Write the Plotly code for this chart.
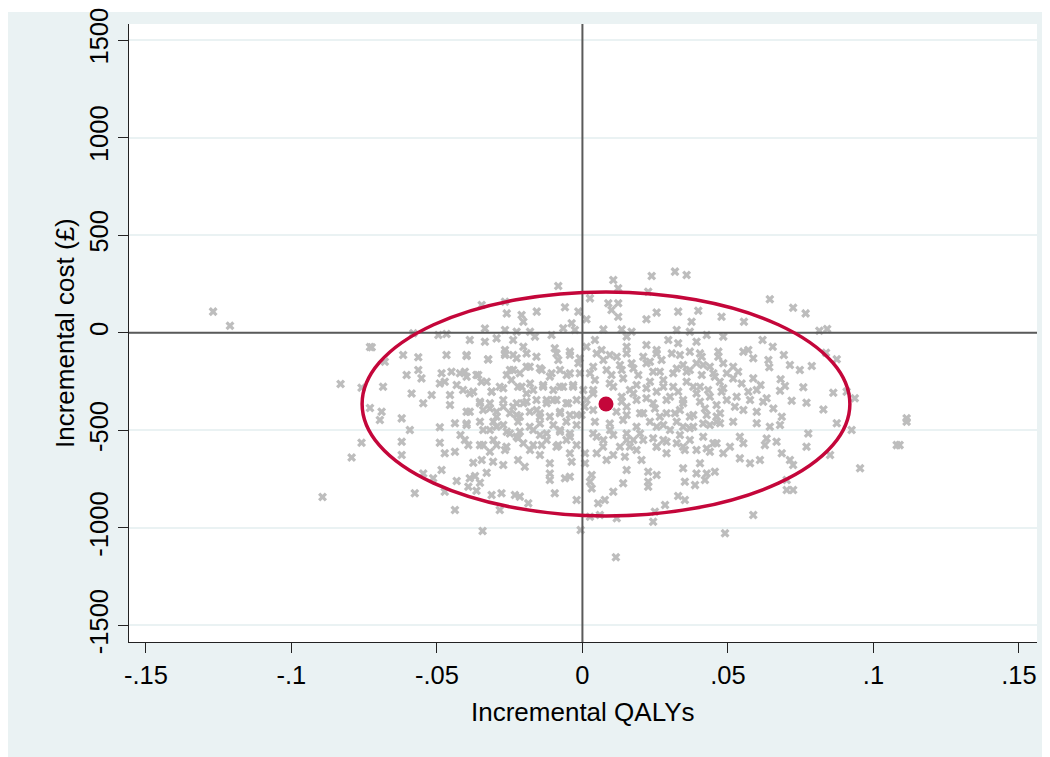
import plotly.graph_objects as go

# Bootstrapped incremental QALYs / costs
boot_points = [
    (-0.1269, 108), (-0.1211, 36), (-0.0831, -263), (-0.0759, -282), (-0.0730, -73), (-0.0730, -386),
    (-0.0893, -842),
    # upper-left block
    (-0.0724, -75), (-0.0346, 142), (-0.0266, 159), (-0.0157, 108), (-0.0260, 99), (-0.0209, 91),
    (-0.0203, 56), (-0.0335, 22), (-0.0581, -3), (-0.0495, -12), (-0.0467, -7), (-0.0266, 14),
    (-0.0226, 5), (-0.0180, 5), (-0.0387, -37), (-0.0335, -46), (-0.0295, -29), (-0.0238, -37),
    (-0.0163, -20), (-0.0266, -89), (-0.0203, -72), (-0.0467, -114), (-0.0398, -119), (-0.0324, -136),
    (-0.0266, -114), (-0.0226, -131), (-0.0616, -114), (-0.0564, -126), (-0.0679, -149), (-0.0564, -191),
    (-0.0604, -217), (-0.0553, -234), (-0.0484, -208), (-0.0450, -200), (-0.0421, -208), (-0.0473, -251),
    (-0.0398, -226), (-0.0364, -217), (-0.0329, -251), (-0.0260, -217), (-0.0238, -191), (-0.0192, -174),
    (-0.0146, -182), (-0.0685, -277), (-0.0490, -260), (-0.0432, -268), (-0.0587, -311), (-0.0518, -319),
    (-0.0455, -319), (-0.0387, -311), (-0.0312, -302), (-0.0272, -285), (-0.0221, -277), (-0.0180, -260),
    (-0.0135, -268), (-0.0547, -362), (-0.0455, -371), (-0.0387, -405), (-0.0352, -362), (-0.0318, -388),
    (-0.0272, -379), (-0.0226, -362), (-0.0192, -354), (-0.0157, -396), (-0.0123, -345), (-0.0690, -405),
    (-0.0621, -439), (-0.0295, -431), (-0.0226, -422), (-0.0146, -431),
    # upper-middle block
    (-0.0083, 239), (0.0106, 270), (0.0238, 291), (0.0318, 313), (0.0358, 296), (0.0123, 228),
    (-0.0060, 130), (0.0026, 176), (0.0089, 151), (0.0123, 151), (0.0100, 116), (0.0123, 82),
    (-0.0014, 108), (0.0226, 210), (0.0255, 103), (0.0329, 108), (0.0398, 113), (0.0478, 82),
    (0.0220, 69), (0.0375, 56), (0.0014, 69), (-0.0037, 48), (-0.0066, 23), (-0.0026, 14),
    (0.0072, 17), (0.0135, 17), (0.0169, 5), (0.0324, 14), (0.0369, 5), (0.0427, -12),
    (0.0484, -20), (-0.0106, -12), (0.0152, -20), (0.0043, -37), (0.0220, -63), (0.0295, -37),
    (0.0329, -54), (0.0392, -46), (-0.0095, -80), (-0.0043, -97), (0.0014, -72), (0.0066, -89),
    (0.0152, -72), (0.0255, -89), (0.0307, -106), (0.0369, -97), (0.0410, -123), (0.0467, -97),
    (-0.0083, -140), (-0.0014, -157), (0.0072, -140), (0.0118, -123), (0.0169, -157), (0.0232, -149),
    (0.0272, -140), (0.0346, -166), (0.0392, -157), (0.0438, -174), (0.0484, -157), (-0.0106, -208),
    (-0.0054, -217), (0.0026, -208), (0.0100, -217), (0.0135, -191), (0.0192, -217), (0.0243, -200),
    (0.0312, -208), (0.0358, -200), (0.0410, -217), (0.0455, -226), (0.0496, -208), (-0.0077, -277),
    (-0.0032, -268), (0.0037, -294), (0.0106, -277), (0.0163, -294), (0.0220, -285), (0.0278, -277),
    (0.0329, -302), (0.0381, -277), (0.0432, -294), (0.0484, -285), (-0.0100, -345), (-0.0049, -362),
    (0.0014, -345), (0.0135, -354), (0.0186, -345), (0.0243, -362), (0.0289, -345), (0.0346, -362),
    (0.0404, -354), (0.0461, -371), (0.0496, -345), (-0.0077, -413), (-0.0020, -422), (0.0152, -422),
    (0.0209, -413), (0.0266, -431), (0.0318, -413), (0.0369, -431), (0.0427, -422), (0.0473, -413),
    # upper-right block
    (0.0644, 171), (0.0724, 128), (0.0767, 99), (0.0555, 56), (0.0814, 10), (0.0841, 19),
    (0.0619, -37), (0.0654, -72), (0.0553, -97), (0.0570, -89), (0.0587, -131), (0.0639, -140),
    (0.0692, -114), (0.0837, -103), (0.0874, -136), (0.0642, -177), (0.0713, -166), (0.0747, -191),
    (0.0788, -171), (0.0518, -174), (0.0535, -200), (0.0518, -234), (0.0547, -260), (0.0587, -234),
    (0.0612, -268), (0.0681, -239), (0.0696, -273), (0.0759, -280), (0.0570, -302), (0.0599, -294),
    (0.0679, -297), (0.0862, -308), (0.0936, -336), (0.0908, -302), (0.0530, -328), (0.0576, -345),
    (0.0621, -354), (0.0633, -336), (0.0719, -349), (0.0770, -359), (0.0828, -393), (0.0524, -379),
    (0.0553, -396), (0.0599, -405), (0.0656, -388), (0.0685, -431), (0.1114, -439),
    # lower-left block
    (-0.0793, -639), (-0.0759, -564), (-0.0621, -559), (-0.0621, -627), (-0.0593, -499), (-0.0696, -447),
    (-0.0490, -485), (-0.0438, -464), (-0.0398, -473), (-0.0490, -564), (-0.0473, -618), (-0.0438, -610),
    (-0.0392, -576), (-0.0419, -524), (-0.0341, -576), (-0.0318, -610), (-0.0295, -576), (-0.0266, -601),
    (-0.0341, -499), (-0.0295, -482), (-0.0260, -507), (-0.0346, -652), (-0.0307, -661), (-0.0272, -678),
    (-0.0375, -666), (-0.0329, -718), (-0.0484, -704), (-0.0547, -721), (-0.0513, -746), (-0.0432, -760),
    (-0.0387, -746), (-0.0369, -735), (-0.0352, -769), (-0.0392, -789), (-0.0364, -810), (-0.0576, -823),
    (-0.0473, -815), (-0.0312, -832), (-0.0278, -823), (-0.0438, -909), (-0.0284, -909), (-0.0343, -1016),
    # lower-middle block
    (-0.0226, -533), (-0.0221, -652), (-0.0232, -832), (-0.0215, -840), (-0.0186, -874), (-0.0180, -601),
    (-0.0198, -687), (-0.0140, -576), (-0.0146, -627), (-0.0112, -669), (-0.0112, -721), (-0.0112, -755),
    (-0.0095, -823), (-0.0060, -746), (-0.0043, -738), (-0.0037, -661), (-0.0043, -618), (-0.0083, -576),
    (-0.0020, -857), (-0.0006, -1011), (0.0009, -618), (0.0009, -669), (0.0032, -729), (0.0026, -764),
    (0.0032, -798), (0.0054, -874), (0.0077, -857), (0.0026, -943), (0.0060, -934), (0.0118, -951),
    (0.0115, -1151), (0.0049, -618), (0.0083, -652), (0.0106, -627), (0.0106, -815), (0.0140, -772),
    (0.0152, -704), (0.0129, -584), (0.0146, -636), (0.0186, -601), (0.0203, -652), (0.0226, -712),
    (0.0226, -764), (0.0226, -789), (0.0255, -729), (0.0243, -969), (0.0249, -917), (0.0284, -883),
    (0.0329, -837), (0.0352, -857), (0.0352, -764), (0.0346, -695), (0.0209, -550), (0.0255, -584),
    (0.0289, -618), (0.0278, -550), (0.0324, -567), (0.0352, -601), (0.0072, -550), (0.0037, -516),
    (0.0095, -499), (0.0152, -516), (0.0175, -550), (-0.0123, -516), (-0.0077, -499), (-0.0043, -533),
    (-0.0169, -499), (-0.0203, -567), (0.0255, -482), (0.0301, -499), (0.0346, -482),
    # lower-right block
    (0.0381, -482), (0.0438, -473), (0.0473, -464), (0.0518, -456), (0.0599, -464), (0.0644, -482),
    (0.0679, -473), (0.0874, -464), (0.0925, -499), (0.1114, -456), (0.1080, -576), (0.1090, -576),
    (0.0770, -584), (0.0776, -516), (0.0851, -627), (0.0954, -695), (0.0667, -559), (0.0633, -542),
    (0.0627, -576), (0.0541, -533), (0.0553, -567), (0.0507, -584), (0.0484, -618), (0.0438, -610),
    (0.0392, -601), (0.0461, -567), (0.0404, -669), (0.0392, -721), (0.0427, -721), (0.0455, -712),
    (0.0421, -755), (0.0387, -781), (0.0541, -644), (0.0576, -669), (0.0610, -652), (0.0685, -618),
    (0.0713, -652), (0.0724, -678), (0.0702, -755), (0.0702, -806), (0.0724, -806), (0.0587, -934),
    (0.0490, -1028),
    # dense core, left
    (-0.0398, -114), (-0.0324, -137), (-0.0266, -106), (-0.0238, -114), (-0.0192, -106), (-0.0158, -123),
    (-0.0089, -106), (-0.0043, -114), (-0.0009, -131), (-0.0404, -200), (-0.0358, -217), (-0.0347, -251),
    (-0.0312, -302), (-0.0249, -191), (-0.0244, -242), (-0.0215, -208), (-0.0181, -174), (-0.0140, -191),
    (-0.0112, -225), (-0.0077, -191), (-0.0043, -208), (-0.0009, -208), (-0.0410, -294), (-0.0375, -302),
    (-0.0284, -277), (-0.0209, -277), (-0.0192, -311), (-0.0169, -294), (-0.0135, -277), (-0.0100, -294),
    (-0.0066, -277), (-0.0032, -277), (0.0003, -294), (-0.0352, -354), (-0.0318, -362), (-0.0272, -345),
    (-0.0238, -379), (-0.0203, -362), (-0.0158, -345), (-0.0123, -362), (-0.0089, -345), (-0.0055, -362),
    (-0.0020, -345), (0.0008, -379), (-0.0398, -405), (-0.0341, -396), (-0.0295, -405), (-0.0249, -413),
    (-0.0215, -430), (-0.0181, -405), (-0.0146, -413), (-0.0112, -430), (-0.0077, -405), (-0.0043, -422),
    (-0.0003, -422), (-0.0398, -465), (-0.0352, -456), (-0.0306, -456), (-0.0272, -473), (-0.0221, -456),
    (-0.0181, -482), (-0.0146, -465), (-0.0100, -473), (-0.0055, -456), (-0.0020, -473), (-0.0318, -499),
    (-0.0249, -516), (-0.0215, -507), (-0.0146, -524), (-0.0077, -507), (-0.0043, -516), (-0.0404, -550),
    (-0.0352, -576), (-0.0306, -550), (-0.0261, -584), (-0.0221, -541), (-0.0169, -576), (-0.0123, -550),
    (-0.0089, -584), (-0.0055, -550), (-0.0020, -576),
    # dense core, right
    (0.0049, -106), (0.0094, -114), (0.0152, -106), (0.0209, -123), (0.0255, -106), (0.0335, -114),
    (0.0404, -106), (0.0467, -123), (0.0037, -174), (0.0083, -191), (0.0129, -166), (0.0175, -183),
    (0.0220, -157), (0.0266, -200), (0.0324, -183), (0.0369, -191), (0.0415, -166), (0.0450, -208),
    (0.0043, -242), (0.0094, -260), (0.0140, -234), (0.0186, -268), (0.0232, -251), (0.0278, -242),
    (0.0312, -277), (0.0358, -251), (0.0404, -277), (0.0472, -251), (0.0037, -311), (0.0135, -328),
    (0.0175, -311), (0.0220, -336), (0.0255, -302), (0.0301, -328), (0.0346, -345), (0.0392, -311),
    (0.0438, -328), (0.0478, -302), (0.0037, -396), (0.0117, -405), (0.0152, -379), (0.0198, -413),
    (0.0249, -388), (0.0289, -413), (0.0335, -396), (0.0381, -422), (0.0421, -388), (0.0461, -430),
    (0.0043, -456), (0.0094, -465), (0.0140, -447), (0.0186, -482), (0.0232, -456), (0.0278, -473),
    (0.0324, -456), (0.0369, -490), (0.0415, -465), (0.0461, -456), (0.0049, -533), (0.0106, -524),
    (0.0152, -550), (0.0198, -516), (0.0243, -541), (0.0289, -559), (0.0335, -524), (0.0369, -550),
    (0.0415, -533), (0.0450, -567), (0.0071, -584), (0.0163, -584), (0.0255, -584), (0.0346, -584),
    (0.0427, -593),
]
inc_qaly = [p[0] for p in boot_points]
inc_cost = [p[1] for p in boot_points]

# Mean point and confidence ellipse (centre, semi-axes)
mean_qaly = [0.0081]
mean_cost = [-365]
ellipse_rx = 0.0838
ellipse_ry = 574

x_ticks = [-0.15, -0.10, -0.05, 0.0, 0.05, 0.10, 0.15]
x_tick_text = ["-.15", "-.1", "-.05", "0", ".05", ".1", ".15"]
y_ticks = [-1500, -1000, -500, 0, 500, 1000, 1500]
y_tick_text = ["-1500", "-1000", "-500", "0", "500", "1000", "1500"]

RED = "#C4063A"
GRID = "#EAF2F3"
BG = "#EAF2F3"
FONT = "Liberation Sans, Arial, sans-serif"

fig = go.Figure()
fig.add_trace(go.Scatter(
    x=inc_qaly, y=inc_cost, mode="markers",
    marker=dict(symbol="x", size=8, color="#BDBDBD", line=dict(width=0)),
    hoverinfo="skip", showlegend=False,
))
fig.add_trace(go.Scatter(
    x=mean_qaly, y=mean_cost, mode="markers",
    marker=dict(symbol="circle", size=15, color=RED, line=dict(width=0)),
    showlegend=False,
))

# zero reference lines on top of the cloud
fig.add_shape(type="line", xref="x", yref="paper", x0=0, x1=0, y0=0, y1=1,
              line=dict(color="#5A5A5A", width=2), layer="above")
fig.add_shape(type="line", xref="paper", yref="y", x0=0, x1=1, y0=0, y1=0,
              line=dict(color="#5A5A5A", width=2), layer="above")
# ellipse
fig.add_shape(type="circle", xref="x", yref="y",
              x0=mean_qaly[0] - ellipse_rx, x1=mean_qaly[0] + ellipse_rx,
              y0=mean_cost[0] - ellipse_ry, y1=mean_cost[0] + ellipse_ry,
              line=dict(color=RED, width=3.5), layer="above")

# thin white strip at the top of the outer region
fig.add_shape(type="rect", xref="paper", yref="paper", x0=-0.2, x1=1.1, y0=1.0194, y1=1.1,
              fillcolor="white", line=dict(width=0), layer="below")

fig.add_annotation(text="Incremental QALYs", xref="paper", yref="paper",
                   x=0.5, y=-0.1133, xanchor="center", yanchor="middle",
                   showarrow=False, font=dict(size=26, color="black", family=FONT))
fig.add_annotation(text="Incremental cost (£)", xref="paper", yref="paper",
                   x=-0.0705, y=0.5, xanchor="center", yanchor="middle", textangle=-90,
                   showarrow=False, font=dict(size=26, color="black", family=FONT))

fig.update_layout(
    width=1042, height=749,
    margin=dict(l=121, r=13, t=16, b=115, autoexpand=False),
    paper_bgcolor=BG, plot_bgcolor="white",
    font=dict(family=FONT, size=25.5, color="black"),
    xaxis=dict(range=[-0.1558, 0.1562], tickvals=x_ticks, ticktext=x_tick_text,
               showgrid=False, zeroline=False, showline=True, linecolor="#222", linewidth=1.2,
               ticks="outside", ticklen=10, tickwidth=1.2, tickcolor="#222",
               ticklabeloverflow="allow", automargin=False),
    yaxis=dict(range=[-1585, 1582], tickvals=y_ticks, ticktext=y_tick_text, tickangle=-90,
               showgrid=True, gridcolor=GRID, gridwidth=1.5, zeroline=False,
               showline=True, linecolor="#222", linewidth=1.2,
               ticks="outside", ticklen=10, tickwidth=1.2, tickcolor="#222",
               ticklabeloverflow="allow", automargin=False),
)

fig.write_html("out.html")
